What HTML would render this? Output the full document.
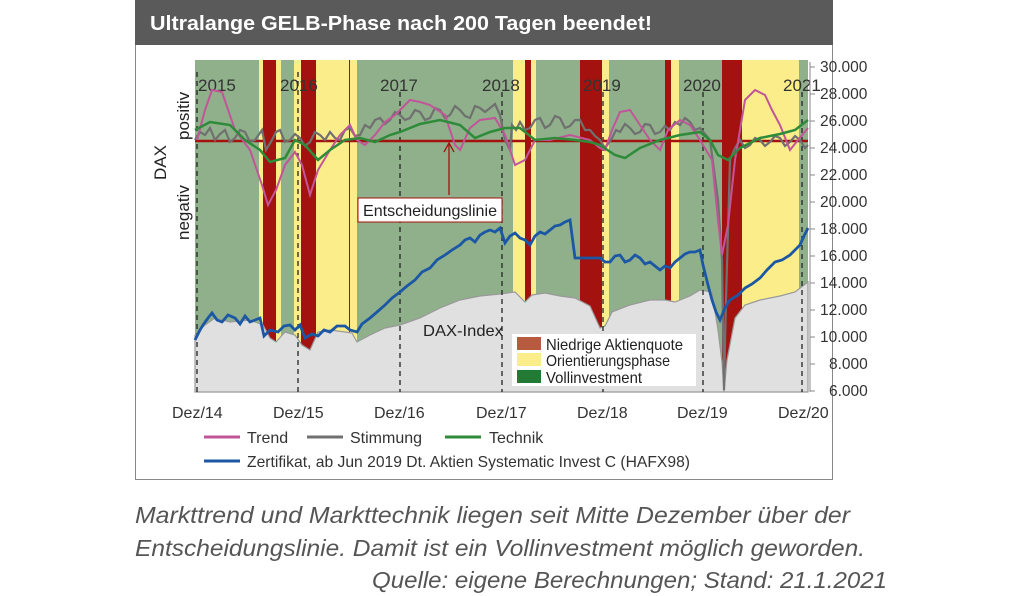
<!DOCTYPE html>
<html><head><meta charset="utf-8"><style>
body{margin:0;background:#fff;width:1024px;height:596px;overflow:hidden;font-family:"Liberation Sans",sans-serif}
</style></head><body>
<svg width="1024" height="596" style="position:absolute;left:0;top:0" font-family="Liberation Sans, sans-serif">
<rect x="135.5" y="0.5" width="697" height="479" fill="#fff" stroke="#888"/>
<rect x="135" y="0" width="698" height="45" fill="#5a5a5a"/>
<text x="150" y="30" fill="#fff" font-weight="bold" font-size="20" textLength="502" lengthAdjust="spacingAndGlyphs">Ultralange GELB-Phase nach 200 Tagen beendet!</text>
<rect x="195" y="60" width="613" height="332" fill="#8fb08a"/>
<g fill="#fbee8a">
<rect x="259" y="60" width="4" height="332"/><rect x="276" y="60" width="5" height="332"/><rect x="294" y="60" width="7" height="332"/>
<rect x="316" y="60" width="41" height="332"/><rect x="513" y="60" width="12" height="332"/><rect x="531" y="60" width="5" height="332"/>
<rect x="602" y="60" width="7" height="332"/><rect x="671" y="60" width="8" height="332"/><rect x="742" y="60" width="57" height="332"/></g>
<g fill="#a3120e">
<rect x="263" y="60" width="13" height="332"/><rect x="301" y="60" width="15" height="332"/><rect x="349" y="60" width="1" height="332"/>
<rect x="525" y="60" width="6" height="332"/><rect x="580" y="60" width="22" height="332"/><rect x="665" y="60" width="6" height="332"/><rect x="722" y="60" width="20" height="332"/></g>
<polygon fill="#e0e0e0" stroke="#999" stroke-width="1.2" points="195,335 205,325 215,318 230,322 250,320 263,325 270,338 276,342 285,332 295,335 302,345 310,350 318,332 330,330 345,332 352,333 357,342 370,335 385,328 400,325 420,318 440,308 460,300 480,296 500,294 515,292 525,302 532,295 545,293 560,296 575,298 590,306 600,328 605,326 612,312 630,305 650,300 665,300 675,302 690,296 700,290 712,292 718,330 722,362 724,392 727,360 735,318 745,305 760,300 780,296 795,292 808,282 808,392 195,392"/>
<g stroke="#222" stroke-dasharray="5,4" stroke-width="1.3">
<line x1="197" y1="72" x2="197" y2="392"/><line x1="298" y1="72" x2="298" y2="392"/><line x1="400" y1="92" x2="400" y2="392"/>
<line x1="502" y1="92" x2="502" y2="392"/><line x1="603" y1="92" x2="603" y2="392"/><line x1="703" y1="92" x2="703" y2="392"/><line x1="802" y1="92" x2="802" y2="392"/></g>
<g font-size="17" fill="#333"><text x="198" y="91">2015</text><text x="280" y="91">2016</text><text x="380" y="91">2017</text><text x="482" y="91">2018</text><text x="583" y="91">2019</text><text x="683" y="91">2020</text><text x="783" y="91">2021</text></g>
<line x1="195" y1="141" x2="808" y2="141" stroke="#a3120e" stroke-width="2.5"/>
<polyline fill="none" stroke="#707070" stroke-width="2.2" points="195,140 200,132 205,135 210,128 215,140 220,134 225,130 230,142 235,138 240,130 245,132 250,142 255,140 262,130 266,150 272,140 276,132 280,130 285,142 290,140 295,134 300,138 305,146 310,142 315,132 320,135 325,140 330,132 335,138 340,140 345,130 350,128 355,136 360,135 365,125 370,128 375,120 380,118 385,124 390,120 395,112 400,115 405,120 410,118 415,110 420,112 425,120 430,118 435,108 440,110 445,118 450,115 455,106 460,110 465,116 470,118 475,106 480,108 485,112 490,108 495,104 500,115 505,140 510,150 512,125 516,130 520,122 525,130 530,128 535,120 540,118 545,128 550,125 555,116 560,118 565,128 570,126 575,120 580,120 585,130 590,130 595,136 600,140 605,148 612,138 616,130 620,132 625,124 630,128 635,134 640,132 645,124 650,125 655,134 660,132 665,126 670,130 675,122 680,125 685,118 690,122 695,130 700,128 705,134 710,140 718,200 722,260 724,390 726,300 730,160 735,148 740,140 745,148 750,145 755,138 760,140 765,146 770,142 775,136 780,138 785,146 790,142 795,136 800,140 805,148 808,145"/>
<polyline fill="none" stroke="#c2559a" stroke-width="2" points="197,140 205,110 212,90 222,92 235,130 250,150 262,185 268,205 276,190 285,165 295,152 302,165 310,195 318,170 330,150 340,135 350,125 357,140 365,145 375,135 385,122 395,115 400,110 410,100 420,102 430,105 445,115 455,145 460,150 470,128 480,120 495,118 505,135 515,165 525,160 535,140 550,140 570,135 590,140 600,148 605,150 612,130 620,112 630,110 640,125 650,140 660,150 668,130 680,120 690,125 700,140 712,160 718,220 722,255 728,225 735,160 745,100 755,90 765,95 772,110 780,125 790,150 798,140 808,128"/>
<polyline fill="none" stroke="#2e8b3a" stroke-width="2.5" points="195,130 210,122 230,125 245,140 260,150 270,162 285,158 295,140 305,145 318,160 330,150 345,140 360,138 375,142 390,135 400,132 420,124 440,120 460,125 475,138 490,132 505,128 520,128 535,140 555,138 575,140 590,142 600,145 615,155 625,158 640,148 660,140 680,135 700,132 710,140 718,155 728,160 740,148 760,138 780,134 795,130 808,120"/>
<polyline fill="none" stroke="#1c57a5" stroke-width="2.8" points="195,340 200,330 203,325 208,318 212,313 217,320 222,322 228,315 235,318 240,324 245,316 250,322 255,320 260,318 264,336 270,330 278,332 284,326 290,325 295,330 300,325 305,338 312,334 318,336 324,330 330,332 337,326 345,326 350,330 357,332 362,324 370,318 377,312 385,305 392,298 400,292 407,286 415,280 422,272 430,268 437,260 445,255 452,250 460,245 465,240 470,238 475,242 480,235 485,232 490,230 495,232 500,228 505,243 510,236 515,233 520,238 525,240 530,245 535,236 540,232 545,234 550,230 555,226 560,225 565,222 570,220 575,258 580,258 590,258 600,258 605,262 610,262 615,256 620,255 625,262 630,260 635,255 640,258 645,264 650,262 655,266 660,270 665,266 670,268 675,262 680,258 685,254 690,252 695,252 700,250 703,265 708,285 712,300 716,312 720,320 725,308 730,300 738,295 745,288 752,284 760,278 767,270 775,262 782,260 790,255 795,250 800,245 804,236 808,228"/>
<line x1="449" y1="195" x2="449" y2="143" stroke="#a3120e" stroke-width="1.3"/>
<polyline points="444,152 449,143 454,152" fill="none" stroke="#a3120e" stroke-width="1.3"/>
<rect x="358" y="198" width="144" height="24" fill="#fff" stroke="#a3120e"/>
<text x="363" y="216" font-size="16" fill="#222" textLength="134" lengthAdjust="spacingAndGlyphs">Entscheidungslinie</text>
<text x="423" y="336" font-size="16" fill="#222" textLength="80" lengthAdjust="spacingAndGlyphs">DAX-Index</text>
<rect x="512" y="334" width="184" height="52" fill="#fff"/>
<rect x="517" y="337" width="24" height="13" fill="#b85a40"/><rect x="517" y="353" width="24" height="13" fill="#fbee8a"/><rect x="517" y="370" width="24" height="13" fill="#237a35"/>
<g font-size="16" fill="#222"><text x="546" y="350" textLength="137" lengthAdjust="spacingAndGlyphs">Niedrige Aktienquote</text><text x="546" y="366" textLength="124" lengthAdjust="spacingAndGlyphs">Orientierungsphase</text><text x="546" y="383" textLength="96" lengthAdjust="spacingAndGlyphs">Vollinvestment</text></g>
<line x1="810" y1="62" x2="810" y2="392" stroke="#888"/>
<g font-size="15.5" fill="#333">
<text x="820" y="72">30.000</text><text x="820" y="99">28.000</text><text x="820" y="126">26.000</text><text x="820" y="153">24.000</text><text x="820" y="180">22.000</text><text x="820" y="207">20.000</text><text x="820" y="234">18.000</text><text x="820" y="261">16.000</text><text x="820" y="288">14.000</text><text x="820" y="315">12.000</text><text x="820" y="342">10.000</text><text x="829" y="369">8.000</text><text x="829" y="396">6.000</text></g>
<g stroke="#888"><line x1="810" y1="67" x2="815" y2="67"/><line x1="810" y1="94" x2="815" y2="94"/><line x1="810" y1="121" x2="815" y2="121"/><line x1="810" y1="148" x2="815" y2="148"/><line x1="810" y1="175" x2="815" y2="175"/><line x1="810" y1="202" x2="815" y2="202"/><line x1="810" y1="229" x2="815" y2="229"/><line x1="810" y1="256" x2="815" y2="256"/><line x1="810" y1="283" x2="815" y2="283"/><line x1="810" y1="310" x2="815" y2="310"/><line x1="810" y1="337" x2="815" y2="337"/><line x1="810" y1="364" x2="815" y2="364"/><line x1="810" y1="391" x2="815" y2="391"/></g>
<g font-size="17" fill="#222">
<text transform="translate(189,140) rotate(-90)">positiv</text>
<text transform="translate(166,180) rotate(-90)">DAX</text>
<text transform="translate(189,240) rotate(-90)">negativ</text></g>
<g font-size="16" fill="#333"><text x="172" y="418">Dez/14</text><text x="273" y="418">Dez/15</text><text x="374" y="418">Dez/16</text><text x="476" y="418">Dez/17</text><text x="577" y="418">Dez/18</text><text x="677" y="418">Dez/19</text><text x="778" y="418">Dez/20</text></g>
<g stroke-width="3"><line x1="204" y1="437" x2="240" y2="437" stroke="#c2559a"/><line x1="307" y1="437" x2="343" y2="437" stroke="#707070"/><line x1="445" y1="437" x2="481" y2="437" stroke="#2e8b3a"/><line x1="204" y1="461" x2="240" y2="461" stroke="#1c57a5"/></g>
<g font-size="16" fill="#333"><text x="247" y="443">Trend</text><text x="350" y="443">Stimmung</text><text x="489" y="443">Technik</text><text x="247" y="467" textLength="443" lengthAdjust="spacingAndGlyphs">Zertifikat, ab Jun 2019 Dt. Aktien Systematic Invest C (HAFX98)</text></g>
<g font-size="23" font-style="italic" fill="#555">
<text x="135" y="523" textLength="715" lengthAdjust="spacingAndGlyphs">Markttrend und Markttechnik liegen seit Mitte Dezember über der</text>
<text x="135" y="556" textLength="730" lengthAdjust="spacingAndGlyphs">Entscheidungslinie. Damit ist ein Vollinvestment möglich geworden.</text>
<text x="372" y="588" textLength="515" lengthAdjust="spacingAndGlyphs">Quelle: eigene Berechnungen; Stand: 21.1.2021</text>
</g>
</svg>
</body></html>
